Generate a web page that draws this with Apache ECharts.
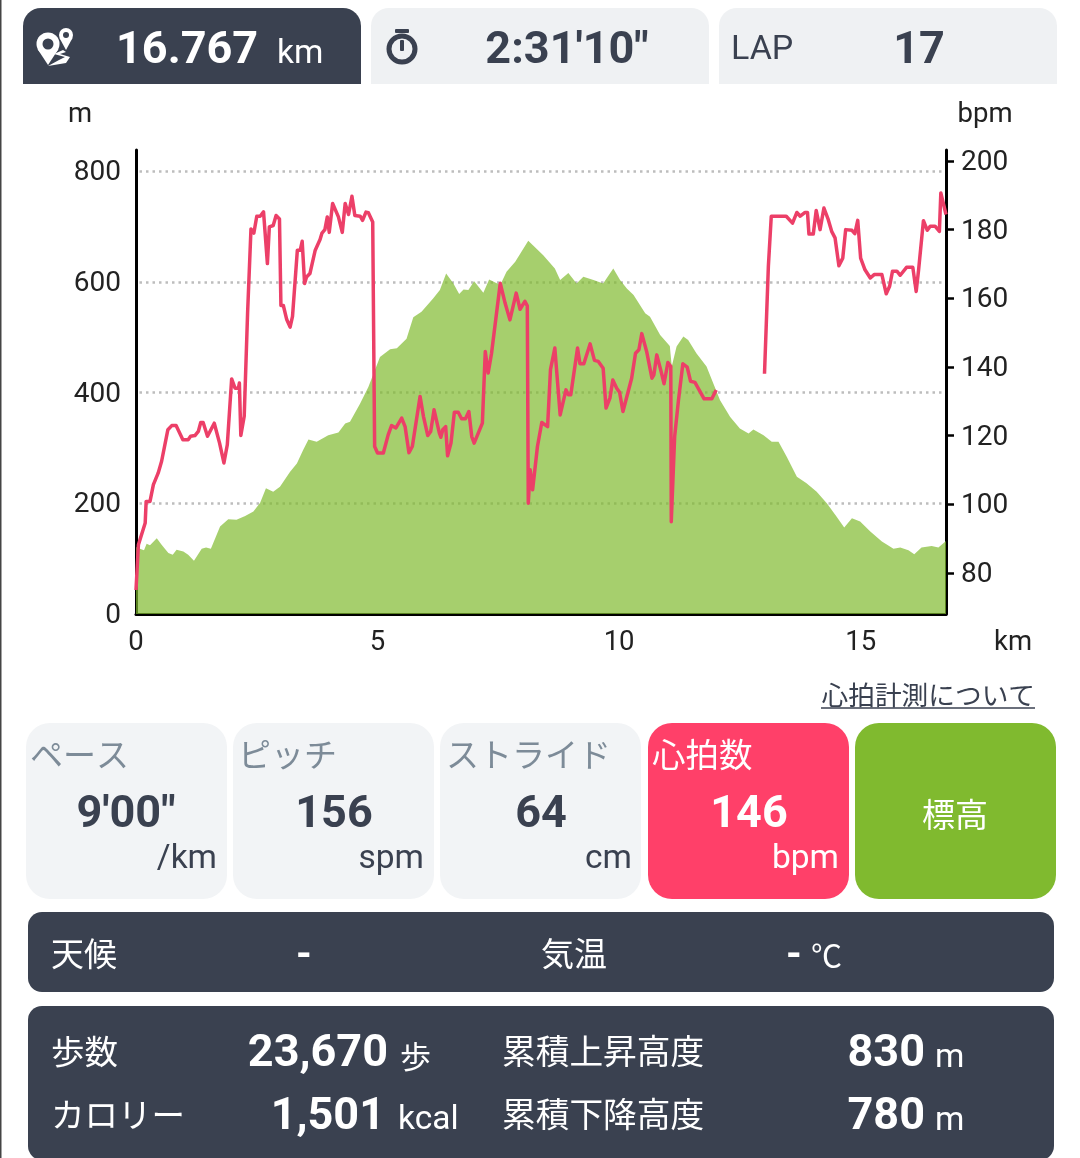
<!DOCTYPE html>
<html><head><meta charset="utf-8">
<style>html,body{margin:0;padding:0;background:#fff}#c{width:1080px;height:1158px}</style>
<script src="https://cdn.jsdelivr.net/npm/echarts@6/dist/echarts.min.js"></script>
</head><body><div id="c"></div>
<script>
const elevKm=[0,.08,.166,.22,.29,.43,.53,.67,.76,.84,.98,1.08,1.2,1.36,1.45,1.55,1.64,1.74,1.91,2.08,2.26,2.43,2.57,2.69,2.84,2.98,3.19,3.33,3.46,3.57,3.74,3.98,4.19,4.33,4.43,4.64,4.81,5.05,5.26,5.4,5.6,5.74,5.91,6.15,6.29,6.42,6.57,6.69,6.78,6.88,7.0,7.19,7.31,7.54,7.67,7.85,8.12,8.43,8.67,8.78,8.95,9.12,9.26,9.47,9.67,9.88,10.02,10.16,10.3,10.54,10.64,10.85,11.05,11.09,11.19,11.33,11.43,11.6,11.81,12.09,12.3,12.5,12.68,12.78,12.99,13.16,13.3,13.47,13.68,13.88,14.09,14.3,14.5,14.66,14.82,14.99,15.2,15.44,15.68,15.82,15.99,16.11,16.26,16.47,16.61,16.767];
const elevM=[121,118,115,127,124,137,125,110,107,116,113,107,96,118,120,118,137,158,171,170,177,185,201,227,221,230,257,272,296,315,311,323,328,344,347,380,410,464,478,480,497,536,546,570,585,615,597,578,586,585,601,580,604,594,618,636,674,648,624,603,616,597,609,603,597,624,603,588,576,543,537,504,484,447,483,501,495,471,447,386,356,335,326,333,323,311,311,284,248,236,221,200,176,156,173,167,149,131,118,120,115,108,120,123,120,132];
const hrKm=[0,.05,.19,.21,.29,.36,.46,.53,.66,.74,.83,.97,1.08,1.13,1.22,1.29,1.34,1.39,1.48,1.62,1.73,1.82,1.89,1.98,2.05,2.12,2.14,2.17,2.24,2.31,2.38,2.44,2.5,2.57,2.64,2.72,2.76,2.84,2.9,2.97,3.0,3.05,3.12,3.19,3.24,3.34,3.4,3.44,3.49,3.53,3.6,3.71,3.81,3.85,3.91,3.96,4.0,4.07,4.19,4.27,4.33,4.4,4.47,4.53,4.64,4.69,4.76,4.81,4.9,4.93,4.94,5.0,5.12,5.22,5.29,5.38,5.5,5.57,5.65,5.72,5.88,5.95,5.98,6.04,6.1,6.17,6.28,6.31,6.35,6.41,6.45,6.52,6.59,6.67,6.74,6.82,6.89,6.95,7.0,7.04,7.17,7.23,7.29,7.36,7.54,7.64,7.74,7.87,7.95,8.05,8.1,8.12,8.16,8.21,8.31,8.4,8.52,8.58,8.67,8.78,8.9,8.95,9.0,9.14,9.19,9.27,9.4,9.49,9.57,9.67,9.73,9.81,9.87,9.95,10.01,10.08,10.26,10.34,10.41,10.47,10.57,10.68,10.72,10.78,10.86,10.93,11.01,11.07,11.08,11.15,11.23,11.32,11.41,11.48,11.57,11.76,11.92,12.01,12.5,13.01,13.09,13.15,13.46,13.59,13.68,13.75,13.85,13.9,13.93,14.02,14.08,14.16,14.24,14.33,14.4,14.47,14.55,14.63,14.69,14.82,14.88,14.94,15.0,15.09,15.2,15.28,15.44,15.53,15.6,15.66,15.75,15.82,15.95,16.08,16.15,16.2,16.3,16.38,16.44,16.54,16.63,16.66,16.767];
const hrBpm=[75,88.2,94.5,100.8,100.8,105.7,109.1,112.5,121.7,122.9,122.9,118.8,118.8,119.8,120,121.2,123.8,123.8,119.8,123.6,117.8,112,117.3,136.5,133.8,133.8,135.3,120,125.6,155.7,180.2,179,183.9,183.9,185.2,170.1,180.8,181.2,184.1,183.1,157.9,157.9,153.8,151.6,154.7,174,174,176.6,164.3,166.2,167.2,174,177.1,179,180,183.7,179.2,187.6,183.7,179.2,187.6,184.4,189.7,184.1,183.9,182.7,185.1,184.9,182.2,132.4,116.8,114.9,114.9,120.2,122.9,122.2,125.1,122.6,115,116.8,131.4,125.6,125.6,120,121.2,127.5,120.7,119.5,121.7,122.6,114.1,117.8,126.8,126.8,124.9,124.9,127,119.7,117.8,117.8,123.6,144.5,138.2,144,164.4,158.6,153.7,161.5,156.8,159.1,157.8,100.3,110,104.2,116.8,123.8,122.6,139.2,145.5,126,133.3,131.9,131.9,145.5,140.9,140.9,146.7,141.9,141.6,139.6,128,130.9,136.2,133.8,132.6,127,136.7,144,145,149.7,144.5,136.7,137.7,143.5,139.2,135.1,141.3,140.1,94.9,119.7,130.4,140.9,139.9,135.8,135.5,130.7,130.7,133.3,null,138,169.3,183.9,183.9,181.9,185,183.9,185,185,178.7,178.7,185.6,180,186.3,182.9,179.5,177.6,169.5,171.7,180,179.8,178.8,182.7,171.7,168.3,165.9,166.9,166.9,161.3,163.5,167.9,167.9,166.7,169,169,162,168.3,182.6,179.8,181,181,179.5,190.7,184.4];
const kmTicks=[0,5,10,15];
const mTicks=[0,200,400,600,800];
const bpmTicks=[80,100,120,140,160,180,200];

const DARK='#3a4150',LIGHT='#eff1f3',LIGHT2='#f2f4f6',PINK='#ff4069',GREEN='#80ba2f',GREY='#7d8b98';
const RB='Roboto, sans-serif',JP='"Noto Sans CJK JP", sans-serif';
const rect=(x,y,w,h,r,fill)=>({type:'rect',z:1,shape:{x,y,width:w,height:h,r},style:{fill}});
const txt=(s,x,y,size,fill,o={})=>({type:'text',z:5,style:{text:s,x,y,fill,textAlign:o.a||'left',textVerticalAlign:'middle',
  font:`${o.b?'700':'400'} ${size}px ${o.jp?JP:RB}`}});
const circ=(cx,cy,r,fill,stroke,lw)=>({type:'circle',z:5,shape:{cx,cy,r},style:stroke?{fill:'none',stroke,lineWidth:lw}:{fill}});
const poly=(points,fill,z)=>({type:'polygon',z:z||5,shape:{points},style:{fill}});

const shapes=[
 rect(0,0,1.5,1158,0,'#444'),
 rect(23,8,338,76,[18,18,0,0],DARK),rect(371,8,338,76,[18,18,0,0],LIGHT),rect(719,8,338,76,[18,18,0,0],LIGHT),
 rect(26,723,201,176,24,LIGHT2),rect(233,723,201,176,24,LIGHT2),rect(440,723,201,176,24,LIGHT2),
 rect(648,723,201,176,24,PINK),rect(855,723,201,176,24,GREEN),
 rect(28,912,1026,80,14,DARK),rect(28,1006,1026,154,14,DARK),
 // route icon
 circ(48,44,11.5,'#fff'),poly([[37.5,49],[58.5,49],[48,65]],'#fff'),circ(48,44,5.5,DARK),
 circ(66,35,7,'#fff'),poly([[59.5,38],[72.5,38],[66,50]],'#fff'),circ(66,35,3,DARK),
 poly([[63,50],[54,54],[65,57],[59,60],[48,66],[66,63],[70,57],[60,54],[66,52]],'#fff'),
 // stopwatch icon
 circ(402,49,13,null,DARK,5),
 {type:'rect',z:5,shape:{x:395,y:29,width:14,height:4,r:1},style:{fill:DARK}},
 {type:'rect',z:5,shape:{x:400,y:40,width:4,height:11,r:1},style:{fill:DARK}},
 {type:'line',z:5,shape:{x1:821,y1:708,x2:1035,y2:708},style:{stroke:DARK,lineWidth:1.5}},
 txt('16.767',116,52,45,'#fff',{b:1}),txt('km',277,55,33.5,'#fff'),
 txt("2:31'10\"",567,52,45,DARK,{b:1,a:'center'}),
 txt('LAP',731,50,34,DARK),txt('17',919,52,45,DARK,{b:1,a:'center'}),
 txt('m',80,115,27.5,'#222',{a:'center'}),txt('bpm',985,115,27.5,'#222',{a:'center'}),txt('km',1013,643,27.5,'#222',{a:'center'}),
 txt('心拍計測について',1035,695,26.7,DARK,{a:'right',jp:1}),
 txt('ペース',30,754,33,GREY,{jp:1}),txt('ピッチ',238,754,33,GREY,{jp:1}),txt('ストライド',446,754,33,GREY,{jp:1}),txt('心拍数',652,754,33.5,'#fff',{jp:1}),
 txt("9'00\"",126,816,45,DARK,{b:1,a:'center'}),txt('156',334,816,45,DARK,{b:1,a:'center'}),txt('64',541,816,45,DARK,{b:1,a:'center'}),txt('146',749,816,45,'#fff',{b:1,a:'center'}),
 txt('/km',217,860,33.5,DARK,{a:'right'}),txt('spm',424,860,33.5,DARK,{a:'right'}),txt('cm',632,860,33.5,DARK,{a:'right'}),txt('bpm',839,860,33.5,'#fff',{a:'right'}),
 txt('標高',955,814,33,'#fff',{a:'center',jp:1}),
 txt('天候',51,953,33,'#fff',{jp:1}),txt('-',304,957,40,'#fff',{b:1,a:'center'}),txt('気温',541,953,33,'#fff',{jp:1}),txt('-',794,957,40,'#fff',{b:1,a:'center'}),txt('℃',811,955,31,'#fff',{jp:1}),
 txt('歩数',51,1051,33.5,'#fff',{jp:1}),txt('23,670',388,1055,45,'#fff',{b:1,a:'right'}),txt('歩',400,1056,31,'#fff',{jp:1}),
 txt('累積上昇高度',502,1051,33.7,'#fff',{jp:1}),txt('830',925,1055,45,'#fff',{b:1,a:'right'}),txt('m',935,1059,33.5,'#fff'),
 txt('カロリー',51,1114,33.5,'#fff',{jp:1}),txt('1,501',385,1118,45,'#fff',{b:1,a:'right'}),txt('kcal',398,1121,33.5,'#fff'),
 txt('累積下降高度',502,1114,33.7,'#fff',{jp:1}),txt('780',925,1118,45,'#fff',{b:1,a:'right'}),txt('m',935,1122,33.5,'#fff')
];

const chart=echarts.init(document.getElementById('c'),null,{renderer:'canvas',width:1080,height:1158});
chart.setOption({
 animation:false,backgroundColor:'#fff',
 graphic:{elements:shapes},
 grid:{left:136,top:150,width:810,height:464,containLabel:false},
 xAxis:{type:'value',min:0,max:16.767,
  axisLine:{show:true,onZero:false,lineStyle:{color:'#000',width:3}},
  axisTick:{show:false,customValues:kmTicks},
  axisLabel:{customValues:kmTicks,color:'#222',fontSize:27.5,fontFamily:'Roboto',margin:15},
  splitLine:{show:false}},
 yAxis:[
  {type:'value',min:0,max:838,position:'left',
   axisLine:{show:true,onZero:false,lineStyle:{color:'#000',width:3}},
   axisTick:{show:false,customValues:mTicks},
   axisLabel:{customValues:mTicks,color:'#222',fontSize:28,fontFamily:'Roboto',margin:15,verticalAlign:'top',lineHeight:4},
   splitLine:{show:true,lineStyle:{color:'#bdbdbd',width:2.5,type:[2.5,4],dashOffset:3}}},
  {type:'value',min:68,max:203.2,position:'right',
   axisLine:{show:true,onZero:false,lineStyle:{color:'#000',width:3}},
   axisTick:{show:true,customValues:bpmTicks,length:8,lineStyle:{color:'#000',width:2.5}},
   axisLabel:{customValues:bpmTicks,color:'#222',fontSize:28,fontFamily:'Roboto',margin:15,verticalAlign:'top',lineHeight:4},
   splitLine:{show:false}}
 ],
 series:[
  {name:'標高',type:'line',yAxisIndex:0,showSymbol:false,silent:true,z:2,
   data:elevKm.map((k,i)=>[k,elevM[i]]),lineStyle:{width:0},
   areaStyle:{color:GREEN,opacity:0.7}},
  {name:'心拍数',type:'line',yAxisIndex:1,showSymbol:false,silent:true,z:3,connectNulls:false,
   data:hrKm.map((k,i)=>[k,hrBpm[i]]),
   lineStyle:{color:'#ec3f68',width:3.5,join:'round'}}
 ]
});
</script></body></html>
